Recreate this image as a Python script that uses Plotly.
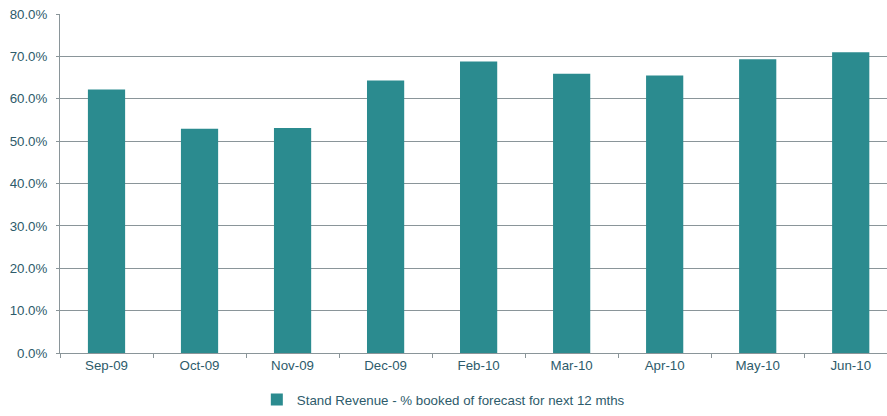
import plotly.graph_objects as go

months = ["Sep-09", "Oct-09", "Nov-09", "Dec-09", "Feb-10", "Mar-10", "Apr-10", "May-10", "Jun-10"]
booked_pct = [0.622, 0.529, 0.531, 0.643, 0.688, 0.659, 0.655, 0.693, 0.710]
series_name = "Stand Revenue - % booked of forecast for next 12 mths"
y_ticks = [0, 0.1, 0.2, 0.3, 0.4, 0.5, 0.6, 0.7, 0.8]

text_color = "#2d5b6b"
bar_color = "#2b8b8f"
grid_color = "#8a9599"

fig = go.Figure(
    go.Bar(
        x=months,
        y=booked_pct,
        name=series_name,
        marker=dict(color=bar_color, line=dict(width=0)),
        showlegend=True,
    )
)

fig.update_layout(
    width=887,
    height=416,
    margin=dict(l=60, r=0, t=14, b=63),
    paper_bgcolor="white",
    plot_bgcolor="white",
    bargap=0.6,
    font=dict(family="Liberation Sans, Arial, sans-serif", size=13.3, color=text_color),
    legend=dict(
        orientation="h",
        x=0.238,
        y=-0.184,
        xanchor="left",
        yanchor="bottom",
        font=dict(size=13.3, color=text_color),
        itemwidth=30,
        borderwidth=0,
    ),
    xaxis=dict(
        range=[-0.5, 8.39],
        showline=True,
        linecolor=grid_color,
        linewidth=1,
        ticks="outside",
        tickson="boundaries",
        ticklen=4,
        tickcolor=grid_color,
        showgrid=False,
        fixedrange=True,
    ),
    yaxis=dict(
        range=[0, 0.8],
        tickvals=y_ticks,
        tickformat=".1%",
        showline=True,
        linecolor=grid_color,
        linewidth=1,
        ticks="outside",
        ticklen=3,
        tickcolor=grid_color,
        showgrid=True,
        gridcolor=grid_color,
        gridwidth=1,
        zeroline=False,
        ticklabelstandoff=6,
    ),
)

fig.write_html("out.html")
